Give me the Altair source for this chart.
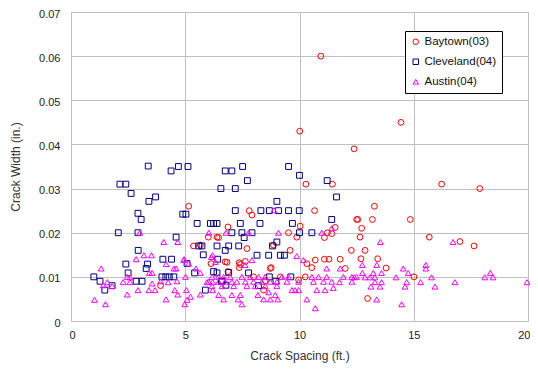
import altair as alt
import pandas as pd

series_names = ["Baytown(03)", "Cleveland(04)", "Austin(04)"]
series_colors = ["#ff0000", "#000080", "#ff00ff"]
series_shapes = ["circle", "square", "triangle-up"]

baytown_x = [10.93, 14.44, 10.01, 12.39, 16.22, 17.89, 10.28, 11.44, 13.28, 5.15,
             7.80, 7.92, 10.66, 12.50, 12.55, 13.19, 14.85, 6.87, 11.56, 12.72,
             6.01, 6.39, 6.46, 9.52, 9.88, 11.09, 11.41, 12.65, 15.68, 17.02,
             17.64, 5.36, 7.70, 9.59, 12.27, 12.87, 6.13, 6.75, 7.36, 10.32,
             10.69, 11.09, 11.29, 12.69, 13.42, 7.36, 8.76, 10.54, 12.00, 13.79,
             6.87, 7.99, 9.16, 9.96, 10.25, 15.01, 8.43, 3.92, 12.98, 10.03,
             8.86, 11.78, 5.66, 7.41, 7.63, 8.72, 8.50, 11.22, 6.83]
baytown_y = [0.060, 0.045, 0.043, 0.039, 0.031, 0.030, 0.031, 0.031, 0.026, 0.026,
             0.025, 0.024, 0.025, 0.023, 0.023, 0.023, 0.023, 0.0213, 0.0212, 0.021,
             0.019, 0.019, 0.0189, 0.020, 0.019, 0.0189, 0.0198, 0.019, 0.019, 0.018,
             0.017, 0.017, 0.0164, 0.016, 0.016, 0.016, 0.013, 0.0134, 0.0132, 0.013,
             0.0138, 0.014, 0.014, 0.0141, 0.0141, 0.0121, 0.0121, 0.0121, 0.0119, 0.012,
             0.0112, 0.010, 0.010, 0.0093, 0.010, 0.010, 0.007, 0.008, 0.0051, 0.0215,
             0.0172, 0.014, 0.0172, 0.0128, 0.0135, 0.0119, 0.0091, 0.020, 0.0133]

cleveland_x = [3.38, 4.38, 4.70, 5.12, 6.75, 7.04, 7.51, 9.52, 2.14, 2.40,
               7.72, 10.00, 11.21, 2.63, 3.70, 3.41, 6.56, 7.19, 11.62, 9.01,
               2.93, 3.07, 4.89, 5.03, 7.19, 8.31, 8.68, 9.08, 9.52, 9.99,
               5.52, 6.10, 6.24, 6.39, 7.41, 8.27, 9.69, 11.41, 2.07, 2.93,
               4.60, 7.04, 7.48, 7.92, 7.58, 10.00, 10.54, 9.01, 5.59, 5.73,
               6.39, 6.90, 7.34, 8.82, 2.94, 6.75, 5.79, 8.14, 8.65, 9.16,
               9.34, 4.02, 4.40, 6.42, 3.35, 2.40, 3.29, 2.50, 5.41, 6.24,
               6.39, 7.77, 1.00, 1.27, 2.85, 3.11, 3.98, 4.15, 4.30, 4.50,
               8.68, 9.62, 6.58, 6.78, 8.97, 1.80, 1.48, 5.88, 8.20, 5.08,
               6.61, 6.90]
cleveland_y = [0.0351, 0.034, 0.035, 0.035, 0.034, 0.034, 0.035, 0.035, 0.031, 0.031,
               0.0318, 0.033, 0.0318, 0.0289, 0.0281, 0.0271, 0.030, 0.030, 0.0281, 0.0271,
               0.0244, 0.023, 0.0242, 0.0242, 0.025, 0.025, 0.025, 0.025, 0.025, 0.025,
               0.0221, 0.0221, 0.0221, 0.0221, 0.0221, 0.0221, 0.0221, 0.023, 0.020, 0.020,
               0.019, 0.020, 0.020, 0.020, 0.0189, 0.020, 0.020, 0.0179, 0.017, 0.017,
               0.017, 0.017, 0.017, 0.017, 0.016, 0.016, 0.015, 0.0149, 0.0149, 0.0149,
               0.0149, 0.014, 0.014, 0.014, 0.0129, 0.0129, 0.0119, 0.0109, 0.0109, 0.0112,
               0.0109, 0.0109, 0.010, 0.009, 0.009, 0.009, 0.010, 0.010, 0.010, 0.010,
               0.010, 0.010, 0.009, 0.0081, 0.009, 0.008, 0.007, 0.007, 0.008, 0.013,
               0.009, 0.011]

austin_x = [1.32, 1.03, 1.51, 2.46, 2.93, 3.41, 3.68, 3.55, 2.28, 2.58,
            1.41, 1.59, 2.58, 2.46, 3.01, 4.06, 4.67, 2.85, 3.19, 3.52,
            4.16, 4.50, 4.60, 4.95, 3.43, 3.55, 4.25, 4.64, 5.01, 4.54,
            4.67, 4.16, 5.05, 4.98, 5.08, 5.23, 5.66, 5.47, 5.66, 5.95,
            6.20, 6.20, 6.20, 6.03, 1.80, 3.92, 6.78, 7.77, 9.08, 10.97,
            11.41, 8.88, 6.14, 6.32, 7.62, 7.92, 9.88, 10.17, 11.19, 11.78,
            6.17, 6.46, 6.68, 6.97, 7.48, 7.85, 8.21, 8.50, 9.23, 9.52,
            10.54, 10.83, 11.19, 11.92, 12.29, 12.50,
            6.03, 6.46, 6.75, 7.04, 7.26, 7.63, 7.99, 8.35, 8.72, 9.01,
            9.45, 9.96, 10.61, 11.05, 11.41, 12.29,
            6.17, 6.61, 7.12, 7.70, 8.06, 8.50, 9.01,
            6.46, 7.04, 7.41, 8.18, 8.65, 8.94,
            9.67, 9.81, 9.96, 10.76, 11.12, 11.48,
            6.68, 7.31, 7.48, 8.43, 8.72, 9.05, 10.32, 10.69,
            13.54, 16.72, 12.75, 13.38, 14.54, 15.53, 15.53, 12.75, 13.23, 13.59,
            14.76, 18.35,
            12.40, 12.87, 13.08, 13.30, 14.22, 15.78, 18.11, 18.47,
            11.75, 13.30, 13.59, 14.69, 15.30, 16.80, 19.96,
            13.13, 13.52, 14.62, 15.93, 13.38, 14.47, 4.93, 5.15]
austin_y = [0.0119, 0.0048, 0.0038, 0.006, 0.007, 0.007, 0.007, 0.0085, 0.0088, 0.0088,
            0.0081, 0.0088, 0.0099, 0.010, 0.020, 0.0179, 0.0179, 0.014, 0.0149, 0.0149,
            0.0129, 0.0119, 0.0119, 0.014, 0.0109, 0.0109, 0.0088, 0.009, 0.010, 0.007,
            0.006, 0.0049, 0.007, 0.0038, 0.0048, 0.0055, 0.006, 0.0119, 0.0109, 0.0088,
            0.0088, 0.007, 0.0149, 0.020, 0.0079, 0.009, 0.020, 0.020, 0.020, 0.020,
            0.021, 0.0251, 0.0145, 0.0134, 0.0127, 0.0138, 0.0147, 0.0138, 0.0119, 0.0119,
            0.010, 0.010, 0.010, 0.010, 0.010, 0.010, 0.010, 0.010, 0.010, 0.010,
            0.010, 0.010, 0.010, 0.010, 0.010, 0.010,
            0.0089, 0.0089, 0.0089, 0.0089, 0.0089, 0.0089, 0.0089, 0.0089, 0.0089, 0.0089,
            0.0089, 0.0089, 0.0089, 0.0089, 0.0089, 0.0089,
            0.0079, 0.0079, 0.0079, 0.0079, 0.0079, 0.0079, 0.0079,
            0.0059, 0.0059, 0.0059, 0.0059, 0.0065, 0.0059,
            0.007, 0.007, 0.007, 0.007, 0.007, 0.0075,
            0.0049, 0.0049, 0.0038, 0.0049, 0.0049, 0.0049, 0.0049, 0.0029,
            0.0179, 0.0179, 0.0127, 0.0127, 0.0119, 0.0127, 0.0119, 0.0109, 0.0109, 0.0109,
            0.0109, 0.0109,
            0.0099, 0.0099, 0.0099, 0.0099, 0.0099, 0.0099, 0.0099, 0.0099,
            0.0088, 0.0088, 0.0088, 0.0088, 0.0088, 0.0088, 0.0088,
            0.0078, 0.0078, 0.0078, 0.0078, 0.0049, 0.0038, 0.0138, 0.013]

x_ticks = [0, 5, 10, 15, 20]
y_ticks = [0, 0.01, 0.02, 0.03, 0.04, 0.05, 0.06, 0.07]

rows = []
for name, xs, ys in [(series_names[0], baytown_x, baytown_y),
                     (series_names[1], cleveland_x, cleveland_y),
                     (series_names[2], austin_x, austin_y)]:
    for xv, yv in zip(xs, ys):
        rows.append({"spacing": xv, "width": yv, "series": name})
df = pd.DataFrame(rows)

font = "Liberation Sans"

chart = alt.Chart(df).mark_point(filled=False, strokeWidth=1, size=34, opacity=1).encode(
    x=alt.X("spacing:Q", scale=alt.Scale(domain=[0, 20], nice=False),
            axis=alt.Axis(values=x_ticks, title="Crack Spacing (ft.)", format="d",
                          grid=True, gridColor="#c0c0c0", gridWidth=1,
                          domain=False, ticks=False, labelPadding=8,
                          labelFlush=True, labelFlushOffset=2,
                          labelFontSize=11, labelColor="#222", labelFont=font,
                          titleFont=font, titleFontSize=12, titleFontWeight="normal",
                          titleColor="#333", titlePadding=10)),
    y=alt.Y("width:Q", scale=alt.Scale(domain=[0, 0.07], nice=False),
            axis=alt.Axis(values=y_ticks, title="Crack Width (in.)",
                          labelExpr="datum.value == 0 ? '0' : format(datum.value, '.2f')",
                          grid=True, gridColor="#c0c0c0", gridWidth=1,
                          domain=False, ticks=False, labelPadding=11, labelOffset=2,
                          labelFlush=False,
                          labelFontSize=11, labelColor="#222", labelFont=font,
                          titleFont=font, titleFontSize=12, titleFontWeight="normal",
                          titleColor="#333", titlePadding=16)),
    color=alt.Color("series:N", scale=alt.Scale(domain=series_names, range=series_colors),
                    legend=alt.Legend(title=None, orient="none", legendX=334, legendY=19,
                                      strokeColor="#000", fillColor="#fff", padding=5,
                                      labelFont=font, labelFontSize=11.5, labelColor="#111",
                                      rowPadding=7, symbolStrokeWidth=1, symbolSize=30,
                                      labelOffset=3)),
    shape=alt.Shape("series:N", scale=alt.Scale(domain=series_names, range=series_shapes),
                    legend=None),
).properties(
    width=457, height=309,
    padding={"left": 63, "top": 4, "right": 2, "bottom": 42},
    autosize=alt.AutoSizeParams(type="none"),
).configure_view(
    stroke="#111", strokeWidth=2
).configure(background="white")

chart.save("out.html", embed_options={"renderer": "svg", "actions": False})
